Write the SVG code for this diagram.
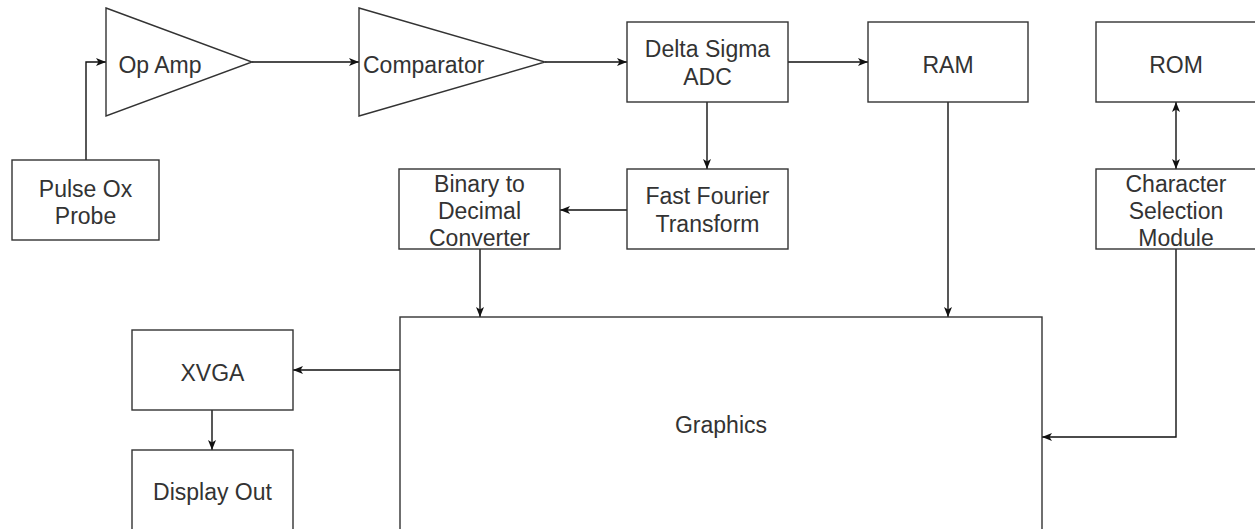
<svg xmlns="http://www.w3.org/2000/svg" width="1255" height="529" viewBox="0 0 1255 529">
<style>
.box{fill:#fff;stroke:#333;stroke-width:1.4}
.t{font-family:"Liberation Sans",Arial,sans-serif;font-size:23px;fill:#333;text-anchor:middle}
.c{fill:none;stroke:#111;stroke-width:1.4}
</style>
<defs>
<marker id="ah" viewBox="0 0 10 10" refX="10" refY="5" markerWidth="10" markerHeight="10" markerUnits="userSpaceOnUse" orient="auto-start-reverse">
<path d="M0,1 L10,5 L0,9 L2.5,5 Z" fill="#111"/>
</marker>
</defs>
<rect width="1255" height="529" fill="#fff"/>
<g id="connectors">
<path class="c" d="M86,160 V62 H106" marker-end="url(#ah)"/>
<path class="c" d="M252,62 H359" marker-end="url(#ah)"/>
<path class="c" d="M545,62 H627" marker-end="url(#ah)"/>
<path class="c" d="M788,62 H868" marker-end="url(#ah)"/>
<path class="c" d="M707,102 V169" marker-end="url(#ah)"/>
<path class="c" d="M627,210 H560" marker-end="url(#ah)"/>
<path class="c" d="M1176,102 V169" marker-start="url(#ah)" marker-end="url(#ah)"/>
<path class="c" d="M480,249 V317" marker-end="url(#ah)"/>
<path class="c" d="M948,102 V317" marker-end="url(#ah)"/>
<path class="c" d="M1176,249 V437 H1042" marker-end="url(#ah)"/>
<path class="c" d="M400,370 H293" marker-end="url(#ah)"/>
<path class="c" d="M212,410 V450" marker-end="url(#ah)"/>
</g>
<g id="pulseox"><rect class="box" x="12" y="160" width="147" height="80"/><text class="t" x="85.5" y="197">Pulse Ox</text><text class="t" x="85.5" y="224">Probe</text></g>
<g id="opamp"><polygon class="box" points="106,8 252,62 106,116"/><text class="t" x="160" y="73">Op Amp</text></g>
<g id="comparator"><polygon class="box" points="359,8 545,62 359,116"/><text class="t" x="363" y="73" style="text-anchor:start">Comparator</text></g>
<g id="adc"><rect class="box" x="627" y="22" width="161" height="80"/><text class="t" x="707.5" y="57">Delta Sigma</text><text class="t" x="707.5" y="85">ADC</text></g>
<g id="ram"><rect class="box" x="868" y="22" width="160" height="80"/><text class="t" x="948" y="73">RAM</text></g>
<g id="rom"><rect class="box" x="1096" y="22" width="160" height="80"/><text class="t" x="1176" y="73">ROM</text></g>
<g id="fft"><rect class="box" x="627" y="169" width="161" height="80"/><text class="t" x="707.5" y="204">Fast Fourier</text><text class="t" x="707.5" y="232">Transform</text></g>
<g id="btod"><rect class="box" x="399" y="169" width="161" height="80"/><text class="t" x="479.5" y="192">Binary to</text><text class="t" x="479.5" y="219">Decimal</text><text class="t" x="479.5" y="246">Converter</text></g>
<g id="charsel"><rect class="box" x="1096" y="169" width="160" height="80"/><text class="t" x="1176" y="192">Character</text><text class="t" x="1176" y="219">Selection</text><text class="t" x="1176" y="246">Module</text></g>
<g id="graphics"><rect class="box" x="400" y="317" width="642" height="230"/><text class="t" x="721" y="433">Graphics</text></g>
<g id="xvga"><rect class="box" x="132" y="330" width="161" height="80"/><text class="t" x="212.5" y="381">XVGA</text></g>
<g id="display"><rect class="box" x="132" y="450" width="161" height="90"/><text class="t" x="212.5" y="500">Display Out</text></g>
</svg>
